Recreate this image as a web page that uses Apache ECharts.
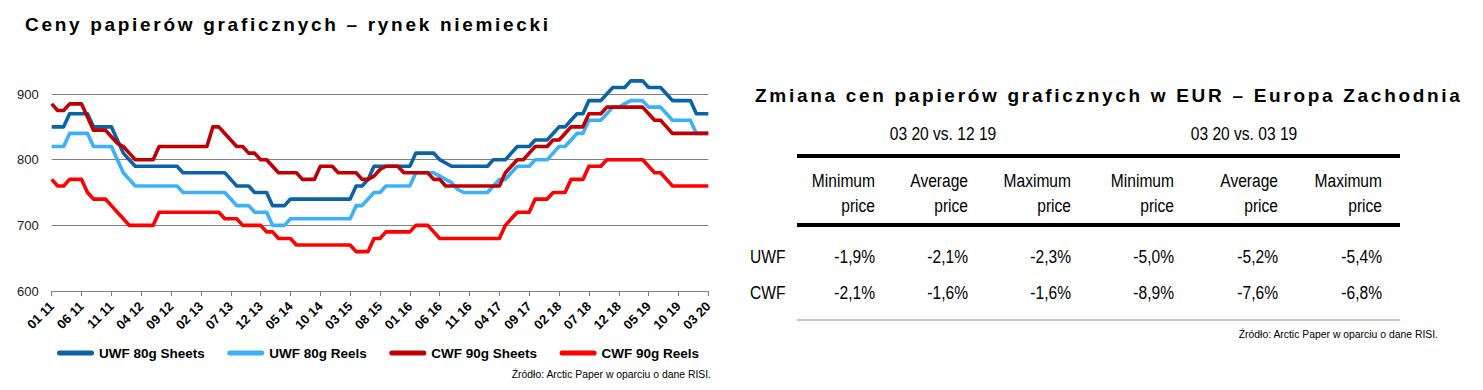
<!DOCTYPE html>
<html>
<head>
<meta charset="utf-8">
<script src="https://cdn.jsdelivr.net/npm/echarts@6/dist/echarts.min.js"></script>
<style>
html,body{margin:0;padding:0;background:#ffffff;}
#chart{width:1483px;height:390px;}
</style>
</head>
<body>
<div id="chart"></div>
<script>
// ---------- DATA ----------
const chartTitle = 'Ceny papierów graficznych – rynek niemiecki';
const tableTitle = 'Zmiana cen papierów graficznych w EUR – Europa Zachodnia';
const sourceText = 'Źródło: Arctic Paper w oparciu o dane RISI.';

const months = [
  '01 11','02 11','03 11','04 11','05 11','06 11','07 11','08 11','09 11','10 11','11 11','12 11',
  '01 12','02 12','03 12','04 12','05 12','06 12','07 12','08 12','09 12','10 12','11 12','12 12',
  '01 13','02 13','03 13','04 13','05 13','06 13','07 13','08 13','09 13','10 13','11 13','12 13',
  '01 14','02 14','03 14','04 14','05 14','06 14','07 14','08 14','09 14','10 14','11 14','12 14',
  '01 15','02 15','03 15','04 15','05 15','06 15','07 15','08 15','09 15','10 15','11 15','12 15',
  '01 16','02 16','03 16','04 16','05 16','06 16','07 16','08 16','09 16','10 16','11 16','12 16',
  '01 17','02 17','03 17','04 17','05 17','06 17','07 17','08 17','09 17','10 17','11 17','12 17',
  '01 18','02 18','03 18','04 18','05 18','06 18','07 18','08 18','09 18','10 18','11 18','12 18',
  '01 19','02 19','03 19','04 19','05 19','06 19','07 19','08 19','09 19','10 19','11 19','12 19',
  '01 20','02 20','03 20'
];

const seriesNames = ['UWF 80g Sheets', 'UWF 80g Reels', 'CWF 90g Sheets', 'CWF 90g Reels'];

const uwfSheets = [
  850,850,850,870,870,870,870,850,850,850,
  850,830,810,800,790,790,790,790,790,790,
  790,790,780,780,780,780,780,780,780,780,
  770,760,760,760,750,750,750,730,730,730,
  740,740,740,740,740,740,740,740,740,740,
  740,760,760,770,790,790,790,790,790,790,
  790,810,810,810,810,800,795,790,790,790,
  790,790,790,790,800,800,800,810,820,820,
  820,830,830,830,840,850,850,860,870,870,
  890,890,890,900,910,910,910,920,920,920,
  910,910,910,900,890,890,890,890,870,870,
  870
];

const uwfReels = [
  820,820,820,840,840,840,840,820,820,820,
  820,800,780,770,760,760,760,760,760,760,
  760,760,750,750,750,750,750,750,750,750,
  740,730,730,730,720,720,720,700,700,700,
  710,710,710,710,710,710,710,710,710,710,
  710,730,730,740,750,750,760,760,760,760,
  760,780,780,780,780,775,770,765,755,750,
  750,750,750,750,760,770,770,780,790,790,
  790,800,800,800,810,820,820,830,840,840,
  860,860,860,870,880,880,885,890,890,890,
  880,880,880,870,860,860,860,860,840,840,
  840
];

const cwfSheets = [
  885,875,875,885,885,885,865,845,845,845,
  835,825,820,810,800,800,800,800,820,820,
  820,820,820,820,820,820,820,850,850,840,
  830,820,820,810,810,800,800,790,780,780,
  780,780,770,770,770,790,790,790,780,780,
  780,780,770,770,775,785,790,790,790,780,
  780,780,780,780,770,770,760,760,760,760,
  760,760,760,760,760,760,780,790,800,800,
  810,820,820,820,830,830,840,850,850,850,
  870,870,870,880,880,880,880,880,880,880,
  870,860,860,850,840,840,840,840,840,840,
  840
];

const cwfReels = [
  770,760,760,770,770,770,750,740,740,740,
  730,720,710,700,700,700,700,700,720,720,
  720,720,720,720,720,720,720,720,720,710,
  710,710,700,700,700,700,690,690,680,680,
  680,670,670,670,670,670,670,670,670,670,
  670,660,660,660,680,680,690,690,690,690,
  690,700,700,700,690,680,680,680,680,680,
  680,680,680,680,680,680,700,710,720,720,
  720,740,740,740,750,750,750,770,770,770,
  790,790,790,800,800,800,800,800,800,800,
  790,780,780,770,760,760,760,760,760,760,
  760
];

const yAxisMin = 600;
const yAxisMax = 950;
const yAxisStep = 100;

const periodHeaders = ['03 20 vs. 12 19', '03 20 vs. 03 19'];
const columnHeaders = ['Minimum\nprice', 'Average\nprice', 'Maximum\nprice', 'Minimum\nprice', 'Average\nprice', 'Maximum\nprice'];
const rowLabels = ['UWF', 'CWF'];
const uwfChanges = ['-1,9%', '-2,1%', '-2,3%', '-5,0%', '-5,2%', '-5,4%'];
const cwfChanges = ['-2,1%', '-1,6%', '-1,6%', '-8,9%', '-7,6%', '-6,8%'];

// ---------- STYLE / LAYOUT ----------
const colors = ['#0A63A6', '#3CB1FA', '#C00000', '#FF0000'];
const SANS = "'Liberation Sans', Arial, sans-serif";
const TITLE_SPACING = '2.7';
const NARROW_SCALE = 0.82;

const colRight = [875, 968, 1071, 1174, 1278, 1382];
const periodCenter = [943, 1244];
const rowY = [256, 292];
const tableLeft = 797, tableRight = 1400;

const chart = echarts.init(document.getElementById('chart'), null, {renderer: 'svg'});

function narrowText(x, y, text, align, extra) {
  return {
    type: 'text', x: x, y: y, scaleX: NARROW_SCALE,
    style: Object.assign({text: text, fontFamily: SANS, fontSize: 19, fill: '#000', align: align, verticalAlign: 'middle'}, extra || {})
  };
}

const graphics = [];
// titles
graphics.push({type: 'text', x: 25, y: 24, style: {text: chartTitle, fontFamily: SANS, fontWeight: 'bold', fontSize: 19, fill: '#000', align: 'left', verticalAlign: 'middle'}});
graphics.push({type: 'text', x: 755, y: 95, style: {text: tableTitle, fontFamily: SANS, fontWeight: 'bold', fontSize: 19, fill: '#000', align: 'left', verticalAlign: 'middle'}});
// source texts
graphics.push({type: 'text', x: 711, y: 374, style: {text: sourceText, fontFamily: SANS, fontSize: 10.4, fill: '#000', align: 'right', verticalAlign: 'middle'}});
graphics.push({type: 'text', x: 1438, y: 334, style: {text: sourceText, fontFamily: SANS, fontSize: 10.4, fill: '#000', align: 'right', verticalAlign: 'middle'}});
// table period headers
periodHeaders.forEach((t, i) => graphics.push(narrowText(periodCenter[i], 133, t, 'center')));
// rules
graphics.push({type: 'rect', shape: {x: tableLeft, y: 154, width: tableRight - tableLeft, height: 4}, style: {fill: '#000'}});
graphics.push({type: 'rect', shape: {x: tableLeft, y: 223, width: tableRight - tableLeft, height: 4}, style: {fill: '#000'}});
graphics.push({type: 'rect', shape: {x: tableLeft, y: 319, width: tableRight - tableLeft, height: 2}, style: {fill: '#C8C8C8'}});
// column headers
columnHeaders.forEach((t, i) => graphics.push(narrowText(colRight[i], 192.5, t, 'right', {lineHeight: 25})));
// rows
[uwfChanges, cwfChanges].forEach((row, r) => {
  graphics.push(narrowText(750, rowY[r], rowLabels[r], 'left'));
  row.forEach((v, i) => graphics.push(narrowText(colRight[i], rowY[r], v, 'right')));
});

const seriesData = [uwfSheets, uwfReels, cwfSheets, cwfReels];

const option = {
  animation: false,
  backgroundColor: '#ffffff',
  color: colors,
  grid: {left: 51.7, right: 774.7, top: 61.2, bottom: 99, containLabel: false},
  legend: {
    data: seriesNames,
    left: 57,
    top: 346,
    padding: 0,
    itemWidth: 37,
    itemHeight: 5,
    itemGap: 22.5,
    icon: 'path://M2.5,0 H34.5 A2.5,2.5 0 0 1 34.5,5 H2.5 A2.5,2.5 0 0 1 2.5,0 Z',
    textStyle: {fontFamily: SANS, fontWeight: 'bold', fontSize: 13.5, color: '#000'}
  },
  xAxis: {
    type: 'category',
    data: months,
    boundaryGap: false,
    axisLine: {lineStyle: {color: '#808080', width: 1}},
    axisTick: {show: true, interval: 4, length: 5, lineStyle: {color: '#808080'}},
    axisLabel: {interval: 4, rotate: 45, margin: 13, fontFamily: SANS, fontWeight: 'bold', fontSize: 13, color: '#000'},
    splitLine: {show: false}
  },
  yAxis: {
    type: 'value',
    min: yAxisMin,
    max: yAxisMax,
    interval: yAxisStep,
    axisLine: {show: false},
    axisTick: {show: false},
    axisLabel: {showMaxLabel: false, margin: 13, fontFamily: SANS, fontSize: 13, color: '#1a1a1a'},
    splitLine: {show: true, showMaxLine: false, lineStyle: {color: '#808080', width: 1}}
  },
  series: seriesNames.map((name, i) => ({
    name: name,
    type: 'line',
    data: seriesData[i],
    symbol: 'none',
    showSymbol: false,
    smooth: false,
    lineStyle: {width: 3.6, color: colors[i], join: 'round'},
    itemStyle: {color: colors[i]},
    emphasis: {disabled: true}
  })),
  graphic: {elements: graphics}
};

chart.setOption(option);

function applyTitleSpacing() {
  document.querySelectorAll('#chart text').forEach(t => {
    const c = t.textContent;
    if (c === chartTitle || c === tableTitle) t.setAttribute('letter-spacing', TITLE_SPACING);
  });
}
chart.on('finished', applyTitleSpacing);
applyTitleSpacing();
setTimeout(applyTitleSpacing, 50);
</script>
</body>
</html>
